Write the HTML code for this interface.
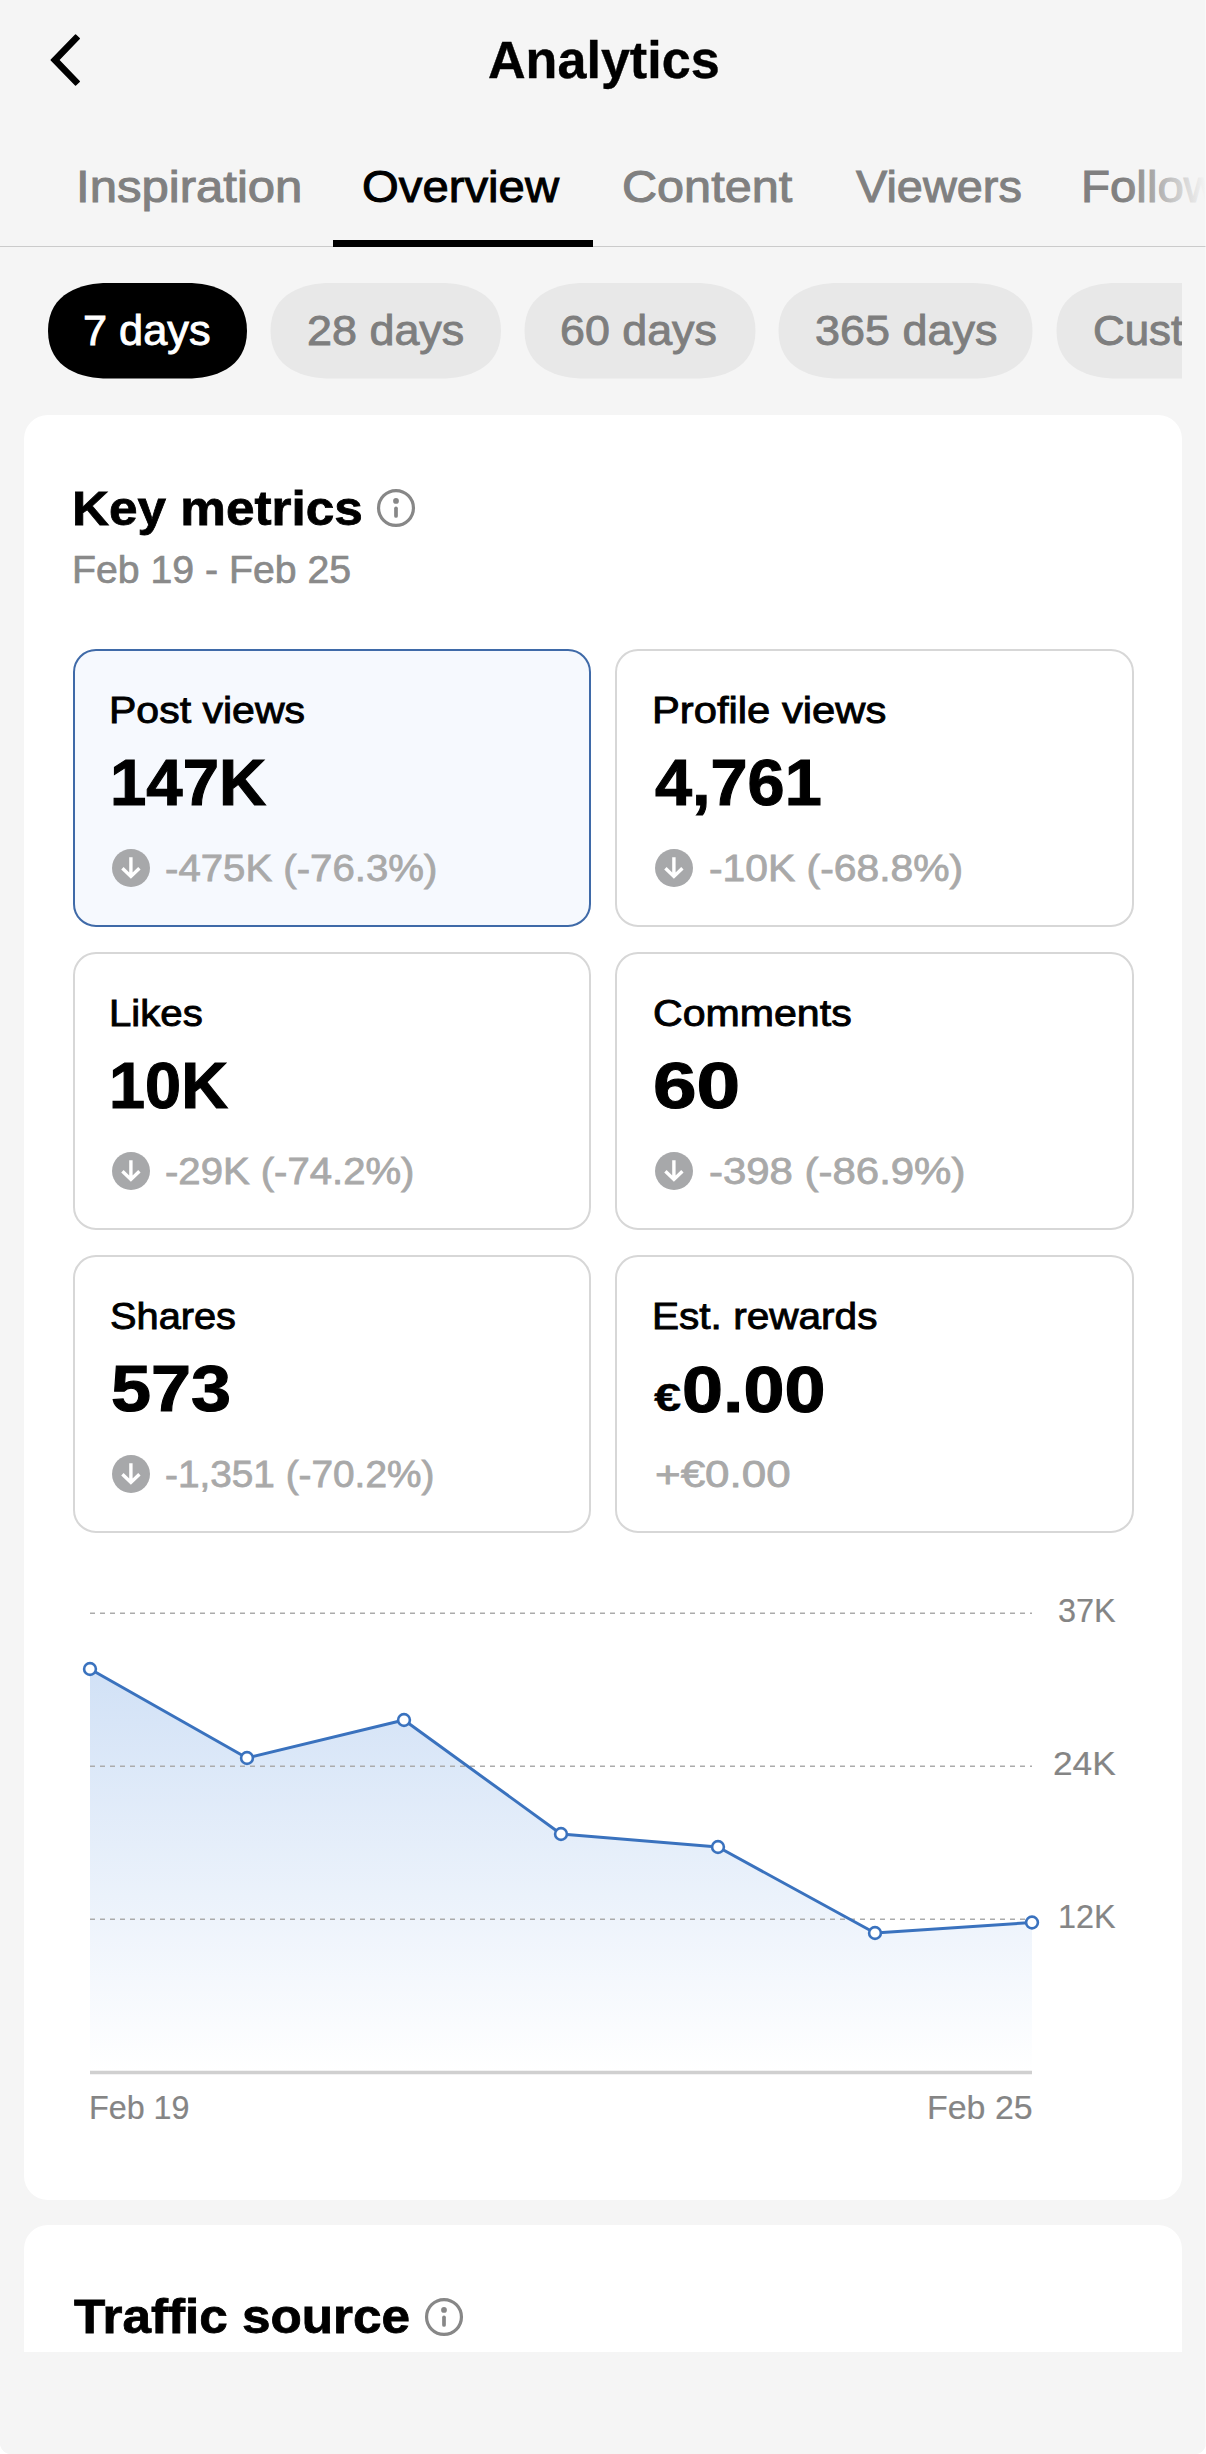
<!DOCTYPE html>
<html lang="en">
<head>
<meta charset="utf-8">
<title>Analytics</title>
<style>
*{box-sizing:border-box;margin:0;padding:0}
html{width:1206px;height:2454px;overflow:hidden;background:#fff}
body{position:relative;width:1206px;height:2454px;overflow:hidden;background:#f5f5f5;border-radius:0 0 11px 11px;font-family:"Liberation Sans",Arial,sans-serif;color:#000}
.t{position:absolute;white-space:nowrap;line-height:1;transform-origin:0 0}
.k{color:#000}.w{color:#fff}.g80{color:#808080}.g7e{color:#7e7e7e}.g8a{color:#8a8a8a}.ga9{color:#a9a9a9}.g85{color:#858585}
.ic{position:absolute}
#back{position:absolute;left:40px;top:25px}
#uline{position:absolute;left:333px;top:240px;width:260px;height:6.5px;background:#000}
#divider{position:absolute;left:0;top:246px;width:1206px;height:1px;background:#cbcbcb}
#tabfade{position:absolute;left:1124px;top:150px;width:82px;height:80px;background:linear-gradient(90deg,rgba(245,245,245,0),rgba(245,245,245,1) 100%)}
#chips{position:absolute;left:0;top:283px;width:1182px;height:96px;overflow:hidden}
.card{position:absolute;left:24px;width:1158px;background:#fff;border-radius:24px}
.tile{position:absolute;width:518.5px;height:278px;border:2px solid #d7d7d7;border-radius:23px;background:#fff}
.tile.on{border-color:#3f6aa8;background:#f6f9fe}
#chart{position:absolute;left:0;top:1560px}
#bottomcover{position:absolute;left:0;top:2352px;width:1206px;height:102px;background:#f5f5f5;border-radius:0 0 11px 11px}
#redge{position:absolute;left:1205px;top:0;width:1px;height:2454px;background:rgba(255,255,255,.45)}
</style>
</head>
<body>

<!-- header -->
<svg id="back" width="60" height="70" viewBox="0 0 60 70"><path d="M35.54 9.9 L11.2 35 L35.54 60.1 L39.29 56.49 L18.61 35 L39.29 13.51 Z" fill="#000" stroke="#000" stroke-width="1.4" stroke-linejoin="round"/></svg>
<div class="t k" style="left:487.6px;top:33.61px;font-size:52.2px;font-weight:bold;-webkit-text-stroke:0.4px currentColor;transform:scaleX(0.9981)">Analytics</div>

<!-- tabs -->
<div class="t g80" style="left:76.3px;top:164.24px;font-size:45.2px;-webkit-text-stroke:1.0px currentColor;transform:scaleX(1.0857)">Inspiration</div>
<div class="t k" style="left:362.3px;top:164.24px;font-size:45.2px;-webkit-text-stroke:1.0px currentColor;transform:scaleX(1.0462)">Overview</div>
<div class="t g80" style="left:622.1px;top:164.24px;font-size:45.2px;-webkit-text-stroke:1.0px currentColor;transform:scaleX(1.0752)">Content</div>
<div class="t g80" style="left:856.3px;top:164.24px;font-size:45.2px;-webkit-text-stroke:1.0px currentColor;transform:scaleX(1.0372)">Viewers</div>
<div class="t g80" style="left:1080.6px;top:164.24px;font-size:45.2px;-webkit-text-stroke:1.0px currentColor;transform:scaleX(1.0500)">Followers</div>
<div id="tabfade"></div>
<div id="divider"></div>
<div id="uline"></div>

<!-- date range chips -->
<div id="chips">
<svg style="position:absolute;left:0;top:0" width="1320" height="96" viewBox="0 0 1320 96"><path d="M107.9 0 H187.1 C212.4 0 247.0 9.1 247.0 47.8 C247.0 86.5 212.4 95.6 187.1 95.6 H107.9 C82.6 95.6 48.0 86.5 48.0 47.8 C48.0 9.1 82.6 0 107.9 0 Z" fill="#000"/><path d="M330.4 0 H441.1 C466.4 0 501.0 9.1 501.0 47.8 C501.0 86.5 466.4 95.6 441.1 95.6 H330.4 C305.1 95.6 270.5 86.5 270.5 47.8 C270.5 9.1 305.1 0 330.4 0 Z" fill="#e8e8e8"/><path d="M584.4 0 H695.6 C720.9 0 755.5 9.1 755.5 47.8 C755.5 86.5 720.9 95.6 695.6 95.6 H584.4 C559.1 95.6 524.5 86.5 524.5 47.8 C524.5 9.1 559.1 0 584.4 0 Z" fill="#e8e8e8"/><path d="M838.4 0 H972.6 C997.9 0 1032.5 9.1 1032.5 47.8 C1032.5 86.5 997.9 95.6 972.6 95.6 H838.4 C813.1 95.6 778.5 86.5 778.5 47.8 C778.5 9.1 813.1 0 838.4 0 Z" fill="#e8e8e8"/><path d="M1116.4 0 H1240.1 C1265.4 0 1300.0 9.1 1300.0 47.8 C1300.0 86.5 1265.4 95.6 1240.1 95.6 H1116.4 C1091.1 95.6 1056.5 86.5 1056.5 47.8 C1056.5 9.1 1091.1 0 1116.4 0 Z" fill="#e8e8e8"/></svg>
<div class="t w" style="left:82.9px;top:25.65px;font-size:43.0px;-webkit-text-stroke:0.9px currentColor;transform:scaleX(1.0066)">7 days</div>
<div class="t g7e" style="left:306.8px;top:25.65px;font-size:43.0px;-webkit-text-stroke:0.9px currentColor;transform:scaleX(1.0443)">28 days</div>
<div class="t g7e" style="left:560.2px;top:25.65px;font-size:43.0px;-webkit-text-stroke:0.9px currentColor;transform:scaleX(1.0416)">60 days</div>
<div class="t g7e" style="left:814.8px;top:25.65px;font-size:43.0px;-webkit-text-stroke:0.9px currentColor;transform:scaleX(1.0450)">365 days</div>
<div class="t g7e" style="left:1092.9px;top:25.65px;font-size:43.0px;-webkit-text-stroke:0.9px currentColor;transform:scaleX(1.0202)">Custom</div>
</div>

<!-- cards -->
<div class="card" style="top:415px;height:1785px"></div>
<div class="card" style="top:2224.5px;height:300px"></div>

<div class="t k" style="left:72.2px;top:484.12px;font-size:49.0px;font-weight:bold;-webkit-text-stroke:0.8px currentColor;transform:scaleX(1.0466)">Key metrics</div>
<svg class="ic" style="left:376px;top:488px" width="40" height="40" viewBox="0 0 40 40"><circle cx="20" cy="20" r="17.45" fill="none" stroke="#878787" stroke-width="3.2"/><path d="M20 20.3 V27.9" stroke="#878787" stroke-width="3.7" stroke-linecap="round"/><circle cx="20" cy="12.9" r="2.9" fill="#878787"/></svg>
<div class="t g8a" style="left:71.7px;top:550.23px;font-size:39.6px;-webkit-text-stroke:0.7px currentColor;transform:scaleX(0.9913)">Feb 19 - Feb 25</div>

<div class="tile on" style="left:72.5px;top:649.3px"></div><div class="tile" style="left:615px;top:649.3px"></div><div class="tile" style="left:72.5px;top:952.3px"></div><div class="tile" style="left:615px;top:952.3px"></div><div class="tile" style="left:72.5px;top:1255.3px"></div><div class="tile" style="left:615px;top:1255.3px"></div>
<div class="t k" style="left:109.4px;top:691.95px;font-size:37.8px;-webkit-text-stroke:0.9px currentColor;transform:scaleX(1.0850)">Post views</div><div class="t k" style="left:109.5px;top:749.62px;font-size:65.6px;font-weight:bold;-webkit-text-stroke:1.1px currentColor;transform:scaleX(0.9959)">147K</div><div class="t ga9" style="left:165.0px;top:850.20px;font-size:37.8px;-webkit-text-stroke:0.8px currentColor;transform:scaleX(1.0628)">-475K (-76.3%)</div>
<div class="t k" style="left:651.7px;top:691.95px;font-size:37.8px;-webkit-text-stroke:0.9px currentColor;transform:scaleX(1.1044)">Profile views</div><div class="t k" style="left:654.6px;top:749.62px;font-size:65.6px;font-weight:bold;-webkit-text-stroke:1.1px currentColor;transform:scaleX(1.0155)">4,761</div><div class="t ga9" style="left:708.6px;top:850.20px;font-size:37.8px;-webkit-text-stroke:0.8px currentColor;transform:scaleX(1.0804)">-10K (-68.8%)</div>
<div class="t k" style="left:109.2px;top:994.95px;font-size:37.8px;-webkit-text-stroke:0.9px currentColor;transform:scaleX(1.0623)">Likes</div><div class="t k" style="left:109.4px;top:1052.62px;font-size:65.6px;font-weight:bold;-webkit-text-stroke:1.1px currentColor;transform:scaleX(0.9887)">10K</div><div class="t ga9" style="left:165.3px;top:1153.20px;font-size:37.8px;-webkit-text-stroke:0.8px currentColor;transform:scaleX(1.0602)">-29K (-74.2%)</div>
<div class="t k" style="left:652.9px;top:994.95px;font-size:37.8px;-webkit-text-stroke:0.9px currentColor;transform:scaleX(1.0873)">Comments</div><div class="t k" style="left:652.7px;top:1052.62px;font-size:65.6px;font-weight:bold;-webkit-text-stroke:1.1px currentColor;transform:scaleX(1.1957)">60</div><div class="t ga9" style="left:708.6px;top:1153.20px;font-size:37.8px;-webkit-text-stroke:0.8px currentColor;transform:scaleX(1.1094)">-398 (-86.9%)</div>
<div class="t k" style="left:110.0px;top:1297.95px;font-size:37.8px;-webkit-text-stroke:0.9px currentColor;transform:scaleX(1.0518)">Shares</div><div class="t k" style="left:111.2px;top:1355.62px;font-size:65.6px;font-weight:bold;-webkit-text-stroke:1.1px currentColor;transform:scaleX(1.0975)">573</div><div class="t ga9" style="left:165.4px;top:1456.20px;font-size:37.8px;-webkit-text-stroke:0.8px currentColor;transform:scaleX(1.0256)">-1,351 (-70.2%)</div>
<div class="t k" style="left:652.1px;top:1297.95px;font-size:37.8px;-webkit-text-stroke:0.9px currentColor;transform:scaleX(1.0734)">Est. rewards</div><div class="t k" style="left:654.2px;top:1378.17px;font-size:39.2px;font-weight:bold;-webkit-text-stroke:0.3px currentColor;transform:scaleX(1.2468)">€</div><div class="t k" style="left:681.7px;top:1356.52px;font-size:65.6px;font-weight:bold;-webkit-text-stroke:1.1px currentColor;transform:scaleX(1.1236)">0.00</div><div class="t ga9" style="left:655.0px;top:1456.40px;font-size:37.8px;-webkit-text-stroke:0.8px currentColor;transform:scaleX(1.1621)">+€0.00</div>
<svg class="ic" style="left:111px;top:848px" width="40" height="40" viewBox="0 0 40 40"><circle cx="20" cy="20" r="19" fill="#a7a8aa"/><path d="M19.9 9.2 V27 M11.4 20.3 L19.9 28.5 L28.4 20.3" fill="none" stroke="#fff" stroke-width="3.4" stroke-linecap="butt" stroke-linejoin="miter"/></svg><svg class="ic" style="left:654.2px;top:848px" width="40" height="40" viewBox="0 0 40 40"><circle cx="20" cy="20" r="19" fill="#a7a8aa"/><path d="M19.9 9.2 V27 M11.4 20.3 L19.9 28.5 L28.4 20.3" fill="none" stroke="#fff" stroke-width="3.4" stroke-linecap="butt" stroke-linejoin="miter"/></svg><svg class="ic" style="left:111px;top:1151px" width="40" height="40" viewBox="0 0 40 40"><circle cx="20" cy="20" r="19" fill="#a7a8aa"/><path d="M19.9 9.2 V27 M11.4 20.3 L19.9 28.5 L28.4 20.3" fill="none" stroke="#fff" stroke-width="3.4" stroke-linecap="butt" stroke-linejoin="miter"/></svg><svg class="ic" style="left:654.2px;top:1151px" width="40" height="40" viewBox="0 0 40 40"><circle cx="20" cy="20" r="19" fill="#a7a8aa"/><path d="M19.9 9.2 V27 M11.4 20.3 L19.9 28.5 L28.4 20.3" fill="none" stroke="#fff" stroke-width="3.4" stroke-linecap="butt" stroke-linejoin="miter"/></svg><svg class="ic" style="left:111px;top:1454px" width="40" height="40" viewBox="0 0 40 40"><circle cx="20" cy="20" r="19" fill="#a7a8aa"/><path d="M19.9 9.2 V27 M11.4 20.3 L19.9 28.5 L28.4 20.3" fill="none" stroke="#fff" stroke-width="3.4" stroke-linecap="butt" stroke-linejoin="miter"/></svg>

<!-- chart -->
<svg id="chart" width="1206" height="600" viewBox="0 1560 1206 600">
<defs><linearGradient id="g" x1="0" y1="1669" x2="0" y2="2072" gradientUnits="userSpaceOnUse"><stop offset="0" stop-color="#d1e1f6"/><stop offset="1" stop-color="#ffffff"/></linearGradient></defs>
<path d="M90 1669 L247 1758 L404 1720 L561 1834 L718 1847 L875 1933 L1032 1922.5 V2072 H90 Z" fill="url(#g)"/>
<g stroke="#ababab" stroke-width="1.5" stroke-dasharray="5 5" fill="none"><path d="M90 1613.3 H1032"/><path d="M90 1766.3 H1032"/><path d="M90 1919.3 H1032"/></g>
<path d="M90 2072.5 H1032" stroke="#d0d0d0" stroke-width="3.4"/>
<path d="M90 1669 L247 1758 L404 1720 L561 1834 L718 1847 L875 1933 L1032 1922.5" fill="none" stroke="#3a72be" stroke-width="3" stroke-linejoin="round"/>
<g fill="#fff" stroke="#3a72be" stroke-width="2.6"><circle cx="90" cy="1669" r="5.9"/><circle cx="247" cy="1758" r="5.9"/><circle cx="404" cy="1720" r="5.9"/><circle cx="561" cy="1834" r="5.9"/><circle cx="718" cy="1847" r="5.9"/><circle cx="875" cy="1933" r="5.9"/><circle cx="1032" cy="1922.5" r="5.9"/></g>
</svg>
<div class="t g85" style="left:1057.6px;top:1593.12px;font-size:34.0px;-webkit-text-stroke:0.2px currentColor;transform:scaleX(0.9539)">37K</div><div class="t g85" style="left:1052.5px;top:1745.92px;font-size:34.0px;-webkit-text-stroke:0.2px currentColor;transform:scaleX(1.0376)">24K</div><div class="t g85" style="left:1057.7px;top:1899.12px;font-size:34.0px;-webkit-text-stroke:0.2px currentColor;transform:scaleX(0.9525)">12K</div><div class="t g85" style="left:89.1px;top:2090.12px;font-size:34.0px;-webkit-text-stroke:0.2px currentColor;transform:scaleX(0.9499)">Feb 19</div><div class="t g85" style="left:926.6px;top:2090.12px;font-size:34.0px;-webkit-text-stroke:0.2px currentColor;transform:scaleX(0.9984)">Feb 25</div>

<!-- traffic source -->
<div class="t k" style="left:73.8px;top:2292.12px;font-size:49.0px;font-weight:bold;-webkit-text-stroke:0.8px currentColor;transform:scaleX(1.0456)">Traffic source</div>
<svg class="ic" style="left:424.3px;top:2296.5px" width="40" height="40" viewBox="0 0 40 40"><circle cx="20" cy="20" r="17.45" fill="none" stroke="#878787" stroke-width="3.2"/><path d="M20 20.3 V27.9" stroke="#878787" stroke-width="3.7" stroke-linecap="round"/><circle cx="20" cy="12.9" r="2.9" fill="#878787"/></svg>
<div id="bottomcover"></div>
<div id="redge"></div>

</body>
</html>
